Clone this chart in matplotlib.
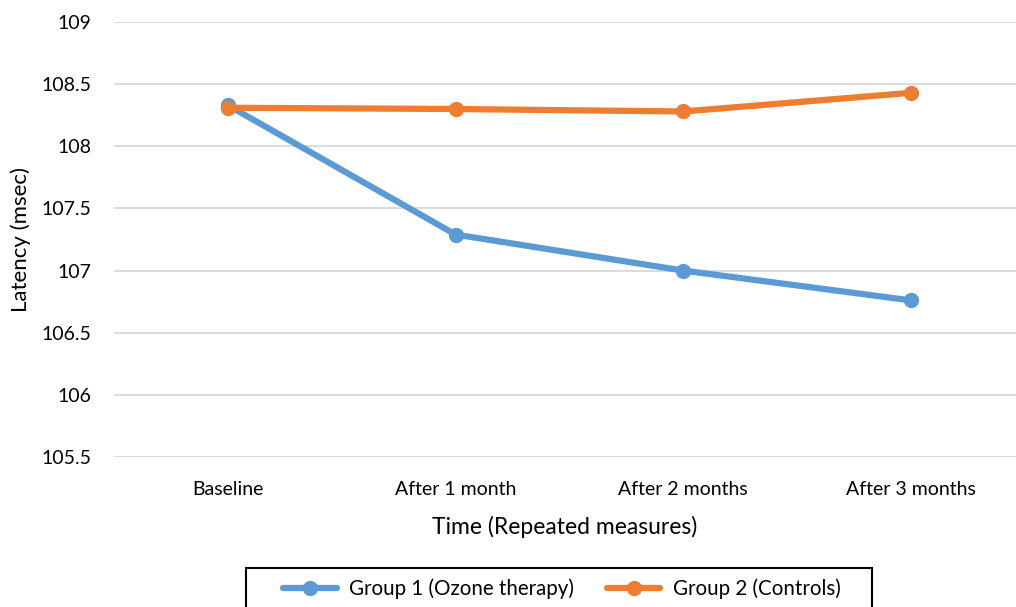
import matplotlib.pyplot as plt
from matplotlib.patches import Rectangle

plt.rcParams['font.family'] = ['Lato', 'DejaVu Sans']

# Datos ------------------------------------------------------------
categorias = ['Baseline', 'After 1 month', 'After 2 months', 'After 3 months']
grupo1 = [108.33, 107.29, 107.00, 106.76]
grupo2 = [108.31, 108.30, 108.28, 108.43]
yticks = [105.5, 106, 106.5, 107, 107.5, 108, 108.5, 109]

azul = '#5B9BD5'
naranja = '#ED7D31'

fig = plt.figure(figsize=(10.16, 6.07), dpi=100)
ax = fig.add_axes([114/1016, 1-457/607, (1016-114)/1016, (457-22)/607])

x = range(len(categorias))
ax.plot(x, grupo1, color=azul, lw=4.5, marker='o', ms=10, label='Group 1 (Ozone therapy)',
        solid_capstyle='round', clip_on=False, zorder=3)
ax.plot(x, grupo2, color=naranja, lw=4.5, marker='o', ms=10, label='Group 2 (Controls)',
        solid_capstyle='round', clip_on=False, zorder=4)

ax.set_xlim(-0.5, 3 + (1016-911)/227.7)
ax.set_ylim(105.5, 109)
ax.set_yticks(yticks)
ax.set_yticklabels([f'{v:g}' for v in yticks])
ax.set_xticks(list(x))
ax.set_xticklabels(categorias)
ax.tick_params(axis='both', length=0, labelsize=14, colors='#000000')
ax.tick_params(axis='x', pad=17)
ax.tick_params(axis='y', pad=16)
ax.grid(axis='y', color='#D9D9D9', lw=1.3)
ax.set_axisbelow(True)
for s in ax.spines.values():
    s.set_visible(False)

ax.set_xlabel('Time (Repeated measures)', fontsize=16.5, labelpad=13)
ax.set_ylabel('Latency (msec)', fontsize=16, labelpad=8)

# Leyenda con caja recortada abajo
fig.patches.append(Rectangle((246/1016, -0.05), (872-246)/1016, 0.05 + 1-568/607,
                             transform=fig.transFigure, fill=False, ec='black', lw=1.5))
fig.legend(loc='center', bbox_to_anchor=(562/1016, 1-589/607), ncol=2, frameon=False,
           fontsize=14.8, handlelength=2.6, columnspacing=1.6, handletextpad=0.6)

fig.savefig('out.png', dpi=100)
